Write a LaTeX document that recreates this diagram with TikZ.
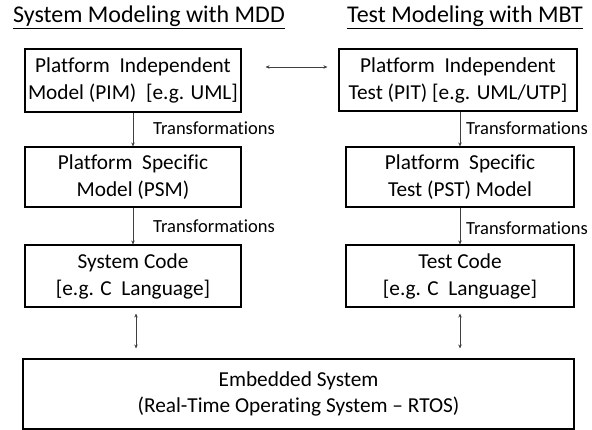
\documentclass[tikz,border=0pt]{standalone}
\usepackage{fontspec}
\setmainfont[Ligatures=NoCommon]{Carlito}
\usetikzlibrary{arrows.meta}
\begin{document}
\begin{tikzpicture}[x=1pt,y=-1pt,
  box/.style={draw=black, line width=1.1pt, minimum height=#1, align=center,
              inner sep=0pt, font=\fontsize{21.3}{27}\selectfont},
  box/.default=62pt,
  title/.style={font=\fontsize{24}{28}\selectfont},
  lbl/.style={font=\fontsize{18.5}{22}\selectfont, anchor=west, inner sep=0pt},
  link/.style={draw=black!75, line width=0.7pt, -{Stealth[length=4pt,width=3.5pt]}},
  dlink/.style={draw=black!75, line width=0.7pt, {Stealth[length=4pt,width=3.5pt]}-{Stealth[length=4pt,width=3.5pt]}}
]
\useasboundingbox (0,0) rectangle (592,430);

% column headings
\node[title] (tl) at (149,17) {\underline{System Modeling with MDD}};
\node[title] (tr) at (465,17) {\underline{Test Modeling with MBT}};

% system side
\node[box=63pt, minimum width=216pt] (pim) at (133,80.5) {Platform\ \ Independent\\Model (PIM)\ \ [e.g. UML]};
\node[box=60pt, minimum width=216pt] (psm) at (133,177) {Platform\ \ Specific\\Model (PSM)};
\node[box=62pt, minimum width=216pt] (sc) at (133,276) {System Code\\{[e.g. C\ \ Language]}};

% test side
\node[box=62pt, minimum width=238pt] (pit) at (458,80) {Platform\ \ Independent\\Test (PIT) [e.g. UML/UTP]};
\node[box=60pt, minimum width=228pt] (pst) at (460,177) {Platform\ \ Specific\\Test (PST) Model};
\node[box=62pt, minimum width=228pt] (tc) at (460,276) {Test Code\\{[e.g. C\ \ Language]}};

% target platform
\node[box=70pt, minimum width=551pt, font=\fontsize{21.3}{25.5}\selectfont] (es) at (298.5,394)
  {Embedded System\\(Real-Time Operating System -- RTOS)};

% transformations
\draw[link] (pim) -- (psm);
\draw[link] (psm) -- (sc);
\draw[link] (pst.north |- pit.south) -- (pst.north);
\draw[link] (pst) -- (tc);

\node[lbl] (l1) at (153,128) {Transformations};
\node[lbl] (l2) at (153,226) {Transformations};
\node[lbl] (l3) at (466,128) {Transformations};
\node[lbl] (l4) at (466,228) {Transformations};

% correspondences
\coordinate (hy) at (0,67);
\draw[dlink, shorten <=24pt, shorten >=11pt] (pim.east |- hy) -- (pit.west |- hy);
\draw[dlink, shorten <=6pt, shorten >=10pt] ([xshift=3pt]sc.south) -- ([xshift=3pt]sc.south |- es.north);
\draw[dlink, shorten <=6pt, shorten >=10pt] (tc.south) -- (tc.south |- es.north);
\end{tikzpicture}
\end{document}
